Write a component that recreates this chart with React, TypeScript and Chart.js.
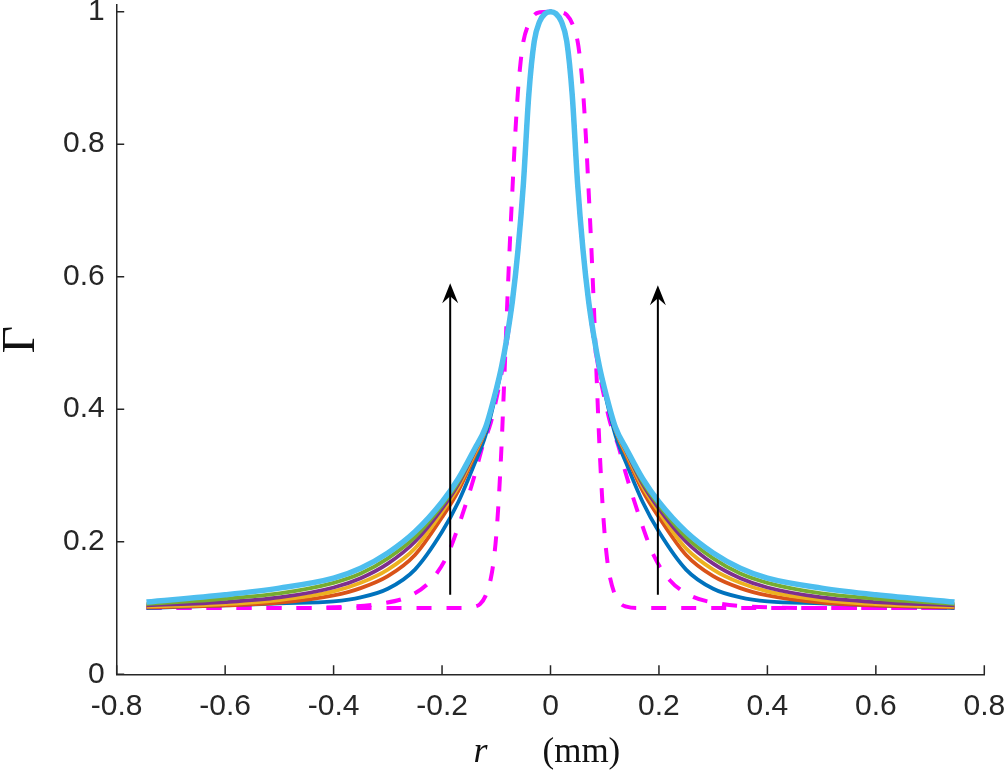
import React, { useEffect, useRef } from "react";
import { Chart, registerables } from "chart.js";

Chart.register(...registerables);

// x positions (mm) shared by the solid curves
const rSolid = [
  -0.745, -0.6, -0.5, -0.4, -0.35, -0.3, -0.25, -0.2, -0.17, -0.14, -0.12, -0.1, -0.09, -0.08, -0.07,
  -0.06, -0.05, -0.04, -0.03, -0.02, -0.01, 0, 0.01, 0.02, 0.03, 0.04, 0.05, 0.06, 0.07, 0.08, 0.09,
  0.1, 0.12, 0.14, 0.17, 0.2, 0.25, 0.3, 0.35, 0.4, 0.5, 0.6, 0.745,
];

const gammaBlue = [
  0.1, 0.104, 0.107, 0.11, 0.116, 0.129, 0.158, 0.215, 0.26, 0.318, 0.36, 0.425, 0.462, 0.508, 0.564,
  0.64, 0.74, 0.875, 0.955, 0.985, 0.997, 1, 0.997, 0.985, 0.955, 0.875, 0.74, 0.64, 0.564, 0.508, 0.462,
  0.425, 0.36, 0.318, 0.26, 0.215, 0.158, 0.129, 0.116, 0.11, 0.107, 0.104, 0.1,
];
const gammaOrange = [
  0.101, 0.104, 0.108, 0.119, 0.13, 0.148, 0.18, 0.237, 0.277, 0.33, 0.368, 0.43, 0.465, 0.51, 0.565,
  0.64, 0.74, 0.875, 0.955, 0.985, 0.997, 1, 0.997, 0.985, 0.955, 0.875, 0.74, 0.64, 0.565, 0.51, 0.465,
  0.43, 0.368, 0.33, 0.277, 0.237, 0.18, 0.148, 0.13, 0.119, 0.108, 0.104, 0.101,
];
const gammaYellow = [
  0.102, 0.106, 0.112, 0.125, 0.138, 0.158, 0.19, 0.245, 0.283, 0.333, 0.369, 0.43, 0.465, 0.51, 0.565,
  0.64, 0.74, 0.875, 0.955, 0.985, 0.997, 1, 0.997, 0.985, 0.955, 0.875, 0.74, 0.64, 0.565, 0.51, 0.465,
  0.43, 0.369, 0.333, 0.283, 0.245, 0.19, 0.158, 0.138, 0.125, 0.112, 0.106, 0.102,
];
const gammaPurple = [
  0.104, 0.109, 0.116, 0.131, 0.145, 0.167, 0.2, 0.25, 0.287, 0.336, 0.37, 0.43, 0.465, 0.51, 0.565,
  0.64, 0.74, 0.875, 0.955, 0.985, 0.997, 1, 0.997, 0.985, 0.955, 0.875, 0.74, 0.64, 0.565, 0.51, 0.465,
  0.43, 0.37, 0.336, 0.287, 0.25, 0.2, 0.167, 0.145, 0.131, 0.116, 0.109, 0.104,
];
const gammaGreen = [
  0.106, 0.114, 0.122, 0.138, 0.152, 0.175, 0.207, 0.255, 0.29, 0.338, 0.371, 0.43, 0.465, 0.51, 0.565,
  0.64, 0.74, 0.875, 0.955, 0.985, 0.997, 1, 0.997, 0.985, 0.955, 0.875, 0.74, 0.64, 0.565, 0.51, 0.465,
  0.43, 0.371, 0.338, 0.29, 0.255, 0.207, 0.175, 0.152, 0.138, 0.122, 0.114, 0.106,
];
const gammaCyan = [
  0.109, 0.12, 0.13, 0.145, 0.16, 0.183, 0.215, 0.26, 0.295, 0.34, 0.372, 0.43, 0.465, 0.51, 0.565,
  0.64, 0.74, 0.875, 0.955, 0.985, 0.997, 1, 0.997, 0.985, 0.955, 0.875, 0.74, 0.64, 0.565, 0.51, 0.465,
  0.43, 0.372, 0.34, 0.295, 0.26, 0.215, 0.183, 0.16, 0.145, 0.13, 0.12, 0.109,
];

// narrow dashed profile
const rDashNarrow = [
  -0.745, -0.16, -0.14, -0.13, -0.12, -0.11, -0.105, -0.1, -0.095, -0.09, -0.085, -0.08, -0.075, -0.07,
  -0.065, -0.06, -0.055, -0.05, -0.04, -0.03, -0.02, 0, 0.02, 0.03, 0.04, 0.05, 0.055, 0.06, 0.065, 0.07,
  0.075, 0.08, 0.085, 0.09, 0.095, 0.1, 0.105, 0.11, 0.12, 0.13, 0.14, 0.16, 0.745,
];
const gammaDashNarrow = [
  0.1, 0.1, 0.102, 0.106, 0.118, 0.145, 0.17, 0.21, 0.27, 0.35, 0.45, 0.555, 0.65, 0.735, 0.815, 0.88,
  0.925, 0.955, 0.982, 0.995, 0.999, 1, 0.999, 0.995, 0.982, 0.955, 0.925, 0.88, 0.815, 0.735, 0.65, 0.555,
  0.45, 0.35, 0.27, 0.21, 0.17, 0.145, 0.118, 0.106, 0.102, 0.1, 0.1,
];

// wider dashed profile
const rDashWide = [
  -0.745, -0.5, -0.4, -0.31, -0.26, -0.22, -0.19, -0.165, -0.14, -0.125, -0.11, -0.1, -0.09, -0.08,
  -0.07, -0.06, -0.05, -0.04, -0.03, -0.02, -0.01, 0, 0.01, 0.02, 0.03, 0.04, 0.05, 0.06, 0.07, 0.08,
  0.09, 0.1, 0.11, 0.125, 0.14, 0.165, 0.19, 0.22, 0.26, 0.31, 0.4, 0.5, 0.745,
];
const gammaDashWide = [
  0.1, 0.1, 0.101, 0.107, 0.118, 0.142, 0.18, 0.235, 0.3, 0.345, 0.38, 0.415, 0.455, 0.505, 0.565, 0.64,
  0.74, 0.875, 0.955, 0.985, 0.997, 1, 0.997, 0.985, 0.955, 0.875, 0.74, 0.64, 0.565, 0.505, 0.455, 0.415,
  0.38, 0.345, 0.3, 0.235, 0.18, 0.142, 0.118, 0.107, 0.101, 0.1, 0.1,
];

// arrows: x position, start and end value
const arrowR = [-0.185, 0.198];
const arrowFrom = [0.12, 0.12];
const arrowTo = [0.59, 0.587];

const xTicks = [-0.8, -0.6, -0.4, -0.2, 0, 0.2, 0.4, 0.6, 0.8];
const yTicks = [0, 0.2, 0.4, 0.6, 0.8, 1];

const axisColor = "#262626";

const toPoints = (xs: number[], ys: number[]) => xs.map((x, i) => ({ x, y: ys[i] }));

const decorations = {
  id: "decorations",
  afterDatasetsDraw(chart: any) {
    const { ctx, chartArea, scales } = chart;
    const xs = scales.x;
    const ys = scales.y;
    ctx.save();

    // inward ticks
    ctx.strokeStyle = axisColor;
    ctx.lineWidth = 1.5;
    ctx.beginPath();
    xs.ticks.forEach((t: any) => {
      const px = xs.getPixelForValue(t.value);
      ctx.moveTo(px, chartArea.bottom);
      ctx.lineTo(px, chartArea.bottom - 9);
    });
    ys.ticks.forEach((t: any) => {
      const py = ys.getPixelForValue(t.value);
      ctx.moveTo(chartArea.left, py);
      ctx.lineTo(chartArea.left + 7.5, py);
    });
    ctx.stroke();

    // arrows
    ctx.strokeStyle = "#000";
    ctx.fillStyle = "#000";
    ctx.lineWidth = 2;
    arrowR.forEach((r, i) => {
      const px = xs.getPixelForValue(r);
      const y0 = ys.getPixelForValue(arrowFrom[i]);
      const y1 = ys.getPixelForValue(arrowTo[i]);
      ctx.beginPath();
      ctx.moveTo(px, y0);
      ctx.lineTo(px, y1 + 12);
      ctx.stroke();
      ctx.beginPath();
      ctx.moveTo(px, y1);
      ctx.lineTo(px - 8, y1 + 20);
      ctx.lineTo(px, y1 + 13);
      ctx.lineTo(px + 8, y1 + 20);
      ctx.closePath();
      ctx.fill();
    });
    ctx.restore();
  },
  afterDraw(chart: any) {
    const { ctx, chartArea } = chart;
    ctx.save();
    ctx.fillStyle = "#111";
    // y title, rotated
    ctx.translate(22, (chartArea.top + chartArea.bottom) / 2);
    ctx.rotate(-Math.PI / 2);
    ctx.font = "47px 'Liberation Serif'";
    ctx.textAlign = "center";
    ctx.textBaseline = "middle";
    ctx.fillText("Γ", 0, 0);
    ctx.restore();

    ctx.save();
    ctx.fillStyle = "#111";
    const cx = (chartArea.left + chartArea.right) / 2;
    ctx.textBaseline = "alphabetic";
    ctx.font = "italic 36px 'Liberation Serif'";
    ctx.textAlign = "center";
    ctx.fillText("r", cx - 70, 762);
    ctx.font = "35px 'Liberation Serif'";
    ctx.textAlign = "left";
    ctx.fillText("(mm)", cx - 8, 762);
    ctx.restore();
  },
};

export default function App() {
  const canvasRef = useRef<HTMLCanvasElement | null>(null);

  useEffect(() => {
    if (!canvasRef.current) return;
    const ctx = canvasRef.current.getContext("2d");
    if (!ctx) return;

    const solid = (label: string, ys: number[], color: string, width: number) => ({
      label,
      data: toPoints(rSolid, ys),
      borderColor: color,
      borderWidth: width,
      pointRadius: 0,
      fill: false,
      cubicInterpolationMode: "monotone" as const,
    });

    const chart = new Chart(ctx, {
      type: "line",
      data: {
        datasets: [
          solid("6", gammaCyan, "#4DBEEE", 5.5),
          solid("5", gammaGreen, "#77AC30", 3.8),
          solid("4", gammaPurple, "#7E2F8E", 3.8),
          solid("3", gammaYellow, "#EDB120", 3.8),
          solid("2", gammaOrange, "#D95319", 3.8),
          solid("1", gammaBlue, "#0072BD", 3.8),
          {
            label: "narrow",
            data: toPoints(rDashNarrow, gammaDashNarrow),
            borderColor: "#FF00FF",
            borderWidth: 4,
            borderDash: [15, 15],
            pointRadius: 0,
            fill: false,
            cubicInterpolationMode: "monotone",
          },
          {
            label: "wide",
            data: toPoints(rDashWide, gammaDashWide),
            borderColor: "#FF00FF",
            borderWidth: 4,
            borderDash: [15, 15],
            pointRadius: 0,
            fill: false,
            cubicInterpolationMode: "monotone",
          },
        ],
      },
      options: {
        responsive: false,
        animation: false,
        layout: { padding: { left: 0, top: 5, right: 23.7, bottom: 0 } },
        plugins: { legend: { display: false }, tooltip: { enabled: false } },
        scales: {
          x: {
            type: "linear",
            min: -0.8,
            max: 0.8,
            grid: { display: false, drawTicks: false, tickLength: 0 },
            border: { display: true, color: axisColor, width: 1.5 },
            ticks: {
              color: axisColor,
              padding: 14,
              font: { family: "'Liberation Sans', Arial, sans-serif", size: 30 },
              callback: (v: any) => String(Math.round(Number(v) * 10) / 10),
            },
            afterBuildTicks: (scale: any) => {
              scale.ticks = xTicks.map((value) => ({ value }));
            },
            afterFit: (scale: any) => {
              scale.height = 103.7;
              scale.paddingLeft = 0;
              scale.paddingRight = 0;
            },
          },
          y: {
            type: "linear",
            min: 0,
            max: 1.01,
            grid: { display: false, drawTicks: false, tickLength: 0 },
            border: { display: true, color: axisColor, width: 1.5 },
            ticks: {
              color: axisColor,
              padding: 12,
              font: { family: "'Liberation Sans', Arial, sans-serif", size: 30 },
              callback: (v: any) => String(Math.round(Number(v) * 10) / 10),
            },
            afterBuildTicks: (scale: any) => {
              scale.ticks = yTicks.map((value) => ({ value }));
            },
            afterFit: (scale: any) => {
              scale.width = 116.7;
              scale.paddingTop = 0;
              scale.paddingBottom = 0;
            },
          },
        },
      },
      plugins: [decorations],
    });

    return () => {
      chart.destroy();
    };
  }, []);

  return (
    <div style={{ position: "fixed", left: 0, top: 0, width: 1008, height: 778, background: "#fff" }}>
      <canvas ref={canvasRef} width={1008} height={778}></canvas>
    </div>
  );
}
